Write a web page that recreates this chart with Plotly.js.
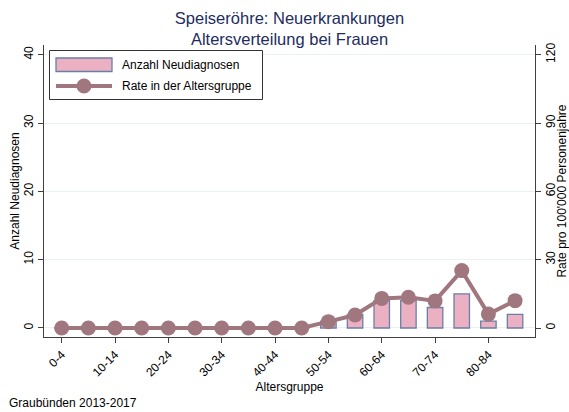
<!DOCTYPE html>
<html>
<head>
<meta charset="utf-8">
<script src="https://cdn.plot.ly/plotly-3.0.1.min.js"></script>
<style>html,body{margin:0;padding:0;background:#fff;}#chart{width:569px;height:412px;}</style>
</head>
<body>
<div id="chart"></div>
<script>
const ageGroups = ["0-4","5-9","10-14","15-19","20-24","25-29","30-34","35-39","40-44","45-49","50-54","55-59","60-64","65-69","70-74","75-79","80-84","85+"];
const newCases = [0,0,0,0,0,0,0,0,0,0,1,2,4,4,3,5,1,2];
const rates = [0,0,0,0,0,0,0,0,0,0,2.8,5.7,13.0,13.5,11.9,25.2,6.1,12.0];
const tickLabelIdx = [0,2,4,6,8,10,12,14,16];
const seriesNames = ["Anzahl Neudiagnosen", "Rate in der Altersgruppe"];

const xIdx = ageGroups.map((_, i) => i);
const font = "Liberation Sans, Arial, sans-serif";
const W = 569, H = 412;
const M = {l: 44, r: 34, t: 45, b: 75};
const PW = W - M.l - M.r, PH = H - M.t - M.b;
const px = v => (v - M.l) / PW;      // pixel x -> paper x
const py = v => (H - M.b - v) / PH;  // pixel y -> paper y

const barColor = "#ebb1c2", barLine = "#6a7fa8", rateColor = "#a0767f";

const traces = [
  {
    type: "bar", name: seriesNames[0], x: xIdx, y: newCases, yaxis: "y",
    width: 0.58, showlegend: false,
    marker: {color: barColor, line: {color: barLine, width: 1.3}},
    hoverinfo: "skip"
  },
  {
    type: "scatter", mode: "lines+markers", name: seriesNames[1],
    x: xIdx, y: rates, yaxis: "y2", showlegend: false,
    line: {color: rateColor, width: 4},
    marker: {color: rateColor, size: 15},
    hoverinfo: "skip"
  }
];

const legendShapes = [
  {type: "rect", xref: "paper", yref: "paper", layer: "above",
   x0: px(49.5), x1: px(262.5), y0: py(50.5), y1: py(99.5),
   fillcolor: "#ffffff", line: {color: "#333333", width: 1}},
  {type: "rect", xref: "paper", yref: "paper", layer: "above",
   x0: px(56), x1: px(112), y0: py(58), y1: py(71.5),
   fillcolor: barColor, line: {color: barLine, width: 1.3}},
  {type: "line", xref: "paper", yref: "paper", layer: "above",
   x0: px(56), x1: px(112), y0: py(86), y1: py(86),
   line: {color: rateColor, width: 4}},
  {type: "circle", xref: "paper", yref: "paper", layer: "above",
   x0: px(76.5), x1: px(91.5), y0: py(78.5), y1: py(93.5),
   fillcolor: rateColor, line: {color: rateColor, width: 0}}
];

const layout = {
  width: W, height: H,
  margin: M,
  paper_bgcolor: "#ffffff", plot_bgcolor: "#ffffff",
  font: {family: font, size: 12, color: "#000"},
  showlegend: false,
  title: {
    text: "Speiseröhre: Neuerkrankungen<br>Altersverteilung bei Frauen",
    font: {family: font, size: 16.5, color: "#1e2d5e"},
    x: 0.5, xref: "paper", xanchor: "center",
    y: 0.942, yref: "container", yanchor: "top"
  },
  xaxis: {
    range: [-0.664, 17.747],
    tickmode: "array",
    tickvals: tickLabelIdx,
    ticktext: tickLabelIdx.map(i => ageGroups[i]),
    tickangle: -45,
    ticks: "outside", ticklen: 5, tickcolor: "#404040",
    showline: true, linecolor: "#404040", linewidth: 1,
    showgrid: false, zeroline: false,
    tickfont: {size: 12},
    title: {text: "Altersgruppe", font: {size: 12}, standoff: 4}
  },
  yaxis: {
    range: [-1.32, 41.42],
    tickvals: [0,10,20,30,40],
    tickangle: -90,
    ticks: "outside", ticklen: 5, tickcolor: "#404040",
    showline: true, linecolor: "#404040", linewidth: 1,
    showgrid: true, gridcolor: "#e9f1f1", gridwidth: 1,
    zeroline: false,
    tickfont: {size: 12},
    title: {text: "Anzahl Neudiagnosen", font: {size: 12}, standoff: 0}
  },
  yaxis2: {
    range: [-3.95, 124.26],
    tickvals: [0,30,60,90,120],
    tickangle: -90,
    overlaying: "y", side: "right",
    ticks: "outside", ticklen: 5, tickcolor: "#404040",
    showline: true, linecolor: "#404040", linewidth: 1,
    showgrid: false, zeroline: false,
    tickfont: {size: 12},
    title: {text: "Rate pro 100'000 Personenjahre", font: {size: 12}, standoff: 2}
  },
  shapes: legendShapes,
  annotations: [
    {text: seriesNames[0], showarrow: false, xref: "paper", yref: "paper",
     x: px(120), y: py(65), xanchor: "left", yanchor: "middle", font: {size: 12}},
    {text: seriesNames[1], showarrow: false, xref: "paper", yref: "paper",
     x: px(120), y: py(86), xanchor: "left", yanchor: "middle", font: {size: 12}},
    {text: "Graubünden 2013-2017", showarrow: false, xref: "paper", yref: "paper",
     x: px(7), y: py(403), xanchor: "left", yanchor: "middle", font: {size: 12}}
  ]
};

Plotly.newPlot("chart", traces, layout, {displayModeBar: false, staticPlot: true});
</script>
</body>
</html>
